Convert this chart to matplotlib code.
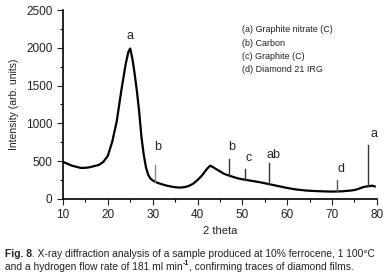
import numpy as np
import matplotlib
matplotlib.use("Agg")
import matplotlib.pyplot as plt

plt.rcParams['font.family'] = ['Liberation Sans', 'DejaVu Sans']

# XRD pattern
two_theta = [10, 12, 14, 15, 16, 18, 19, 20, 21, 22, 23, 24, 24.6, 25, 25.5, 26, 26.5,
             27, 27.5, 28, 28.5, 29, 29.5, 30, 31, 32, 33, 34, 35, 36, 37, 38, 39, 40,
             41, 42, 42.8, 43.5, 44, 45, 46, 47, 48, 49, 50, 52, 54, 56, 58, 60, 62,
             64, 66, 68, 70, 72, 74, 75, 76, 77, 78, 79, 79.5]
intensity = [490, 440, 410, 412, 420, 450, 490, 570, 760, 1030, 1430, 1790, 1950, 1990,
             1850, 1650, 1420, 1150, 820, 590, 420, 320, 270, 245, 215, 195, 178, 165,
             155, 150, 155, 170, 200, 250, 310, 390, 440, 420, 400, 365, 330, 310, 290,
             272, 260, 240, 220, 195, 170, 145, 125, 112, 105, 100, 97, 100, 110, 118,
             135, 158, 168, 175, 165]

# reflection markers
spike_pos = [30.5, 47, 50.5, 56, 71, 78]
spike_top = [450, 525, 395, 472, 251, 714]
spike_color = ['#888888', '#333333', '#333333', '#333333', '#555555', '#333333']

labels = ['a', 'b', 'b', 'c', 'ab', 'd', 'a']
label_x = [25, 31.2, 47.6, 51.5, 56.9, 71.9, 79.3]
label_y = [2150, 692, 692, 538, 582, 393, 860]

legend_lines = ['(a) Graphite nitrate (C)', '(b) Carbon', '(c) Graphite (C)', '(d) Diamond 21 IRG']

fig = plt.figure(figsize=(3.91, 2.79), dpi=100)
ax = fig.add_axes([0.161, 0.287, 0.803, 0.677])

ax.plot(two_theta, intensity, color='black', lw=1.6)
base = np.interp(spike_pos, two_theta, intensity)
for x, b, t, c in zip(spike_pos, base, spike_top, spike_color):
    ax.plot([x, x], [b, t], color=c, lw=1.0)

for s, x, y in zip(labels, label_x, label_y):
    ax.text(x, y, s, fontsize=9, ha='center', va='center', color='#222222')

for i, s in enumerate(legend_lines):
    ax.text(49.9, 2236 - i * 176, s, fontsize=6.5, ha='left', va='center', color='#222222')

ax.set_xlim(10, 80)
ax.set_ylim(0, 2500)
ax.set_xticks(range(10, 81, 10))
ax.set_xticks(range(15, 80, 10), minor=True)
ax.set_yticks(range(0, 2501, 500))
ax.set_yticks(range(250, 2500, 500), minor=True)
for sp in ['top', 'right']:
    ax.spines[sp].set_visible(False)
for sp in ['left', 'bottom']:
    ax.spines[sp].set_linewidth(1.2)
ax.tick_params(which='major', length=4, width=0.8, labelsize=8.5, colors='#222222')
ax.tick_params(which='minor', length=2.5, width=0.8)
ax.set_xlabel('2 theta', fontsize=8, color='#222222', labelpad=3)
ax.set_ylabel('Intensity (arb. units)', fontsize=7.5, color='#222222', labelpad=5)

# caption, pieces chained one after another
cs = 7.4
t1 = fig.text(0.012, 0.078, 'Fig. 8', fontsize=cs, fontweight='bold', color='#222222', va='baseline')
ax.annotate('. X-ray diffraction analysis of a sample produced at 10% ferrocene, 1 100°C',
            xy=(1, 0), xycoords=t1, va='bottom', fontsize=cs, color='#222222', annotation_clip=False)
t2 = fig.text(0.012, 0.032, 'and a hydrogen flow rate of 181 ml min', fontsize=cs, color='#222222', va='baseline')
t3 = ax.annotate('-1', xy=(1, 0.55), xycoords=t2, va='bottom', fontsize=5, fontweight='bold',
                 color='#222222', annotation_clip=False)
ax.annotate(', confirming traces of diamond films.', xy=(1, 0), xycoords=(t3, t2), va='bottom',
            fontsize=cs, color='#222222', annotation_clip=False)

fig.savefig('out.png', dpi=100)
